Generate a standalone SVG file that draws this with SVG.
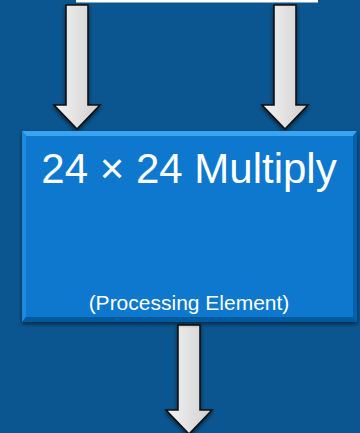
<svg xmlns="http://www.w3.org/2000/svg" width="360" height="433" viewBox="0 0 360 433">
<defs>
<linearGradient id="ag" x1="0" y1="0" x2="1" y2="0">
<stop offset="0" stop-color="#f4f4f4"/>
<stop offset="1" stop-color="#cfcfcf"/>
</linearGradient>
<filter id="sh" x="-10%" y="-10%" width="120%" height="130%">
<feGaussianBlur in="SourceAlpha" stdDeviation="2"/>
<feOffset dx="0" dy="2" result="b"/>
<feComponentTransfer><feFuncA type="linear" slope="0.6"/></feComponentTransfer>
<feMerge><feMergeNode/><feMergeNode in="SourceGraphic"/></feMerge>
</filter>
</defs>
<style>
.arrow{fill:url(#ag);stroke:#111;stroke-width:1.6;stroke-linejoin:miter}
.t{fill:#ffffff;font-family:"Liberation Sans",Arial,sans-serif;text-anchor:middle}
</style>
<rect x="0" y="0" width="360" height="433" fill="#0b5690"/>
<rect id="topbar" x="76" y="0" width="242" height="2.5" fill="#ffffff"/>
<g id="connectors">
<polygon class="arrow" filter="url(#sh)" points="66,5 88,5 88,105 100,105 77,129 54,105 66,105"/>
<polygon class="arrow" filter="url(#sh)" points="274,5 296,5 296,105 308,105 285,129 262,105 274,105"/>
<polygon class="arrow" filter="url(#sh)" points="178,325 200,325 200,410 212,410 189,434 166,410 178,410"/>
</g>
<g id="multiplier">
<g filter="url(#sh)">
<rect x="22" y="131" width="335" height="191" fill="#0878cd"/>
<polygon points="22,131 357,131 353,136 26,136" fill="#3aa4f2"/>
<polygon points="22,131 26,136 26,317 22,322" fill="#1a8ae0"/>
<polygon points="357,131 357,322 353,317 353,136" fill="#0662ad"/>
<polygon points="22,322 357,322 353,317 26,317" fill="#055a9f"/>
</g>
<text class="t" x="189" y="183" font-size="42">24 × 24 Multiply</text>
<text class="t" x="189" y="310" font-size="21">(Processing Element)</text>
</g>
</svg>
